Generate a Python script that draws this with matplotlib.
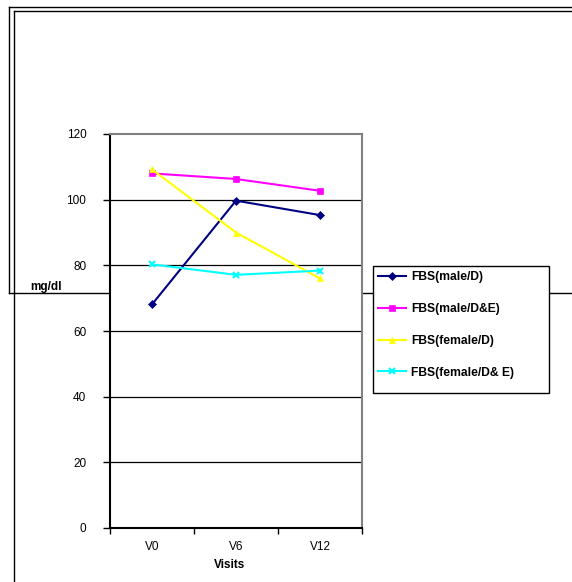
import matplotlib
matplotlib.use("Agg")
import matplotlib.pyplot as plt
from matplotlib.patches import Rectangle

plt.rcParams['font.family'] = ['Liberation Sans', 'DejaVu Sans']

visits = ["V0", "V6", "V12"]
male_d = [68.1, 99.7, 95.3]
male_de = [108.0, 106.3, 102.7]
female_d = [109.2, 90.0, 76.0]
female_de = [80.3, 77.1, 78.4]
labels = ["FBS(male/D)", "FBS(male/D&E)", "FBS(female/D)", "FBS(female/D& E)"]
colors = ["#000080", "#FF00FF", "#FFFF00", "#00FFFF"]
markers = ["D", "s", "^", "x"]

W, H = 572, 582
fig = plt.figure(figsize=(W / 100, H / 100), dpi=100)

# frame lines around the chart (page borders in the source document)
bg = fig.add_axes([0, 0, 1, 1], zorder=0)
bg.set_xlim(0, W)
bg.set_ylim(H, 0)
bg.axis("off")
bg.plot([9, W], [7, 7], color="black", lw=1)
bg.plot([14, W], [11, 11], color="black", lw=1)
bg.plot([9, 9], [7, 293], color="black", lw=1)
bg.plot([14, 14], [11, H], color="black", lw=1)
bg.plot([9, W], [293, 293], color="black", lw=1)
# legend box
bg.add_patch(Rectangle((373, 266), 176, 127, facecolor="white",
                       edgecolor="black", lw=1, zorder=5))

ax = fig.add_axes([110 / W, (H - 528) / H, 252 / W, 394 / H], zorder=1)
ax.set_facecolor("white")

x = range(len(visits))
series = [male_d, male_de, female_d, female_de]
handles = []
for vals, lab, c, m in zip(series, labels, colors, markers):
    ms = 4 if m != "x" else 5
    h, = ax.plot(x, vals, color=c, marker=m, markersize=ms, lw=1.5,
                 markeredgewidth=1.5 if m == "x" else 0.5, label=lab)
    handles.append(h)

ax.set_xlim(-0.5, 2.5)
ax.set_ylim(0, 120)
ax.set_yticks(range(0, 121, 20))
ax.set_xticks([-0.5, 0.5, 1.5, 2.5])
ax.set_xticklabels([])
ax.set_xticks(list(x), minor=True)
ax.set_xticklabels(visits, minor=True)
ax.tick_params(axis="x", which="minor", length=0, pad=9, labelsize=8.5)
ax.tick_params(axis="x", which="major", direction="out", length=4, width=1)
ax.tick_params(axis="y", direction="out", length=5, width=1, labelsize=8.5, pad=12)
for yv in range(20, 101, 20):
    ax.axhline(yv, color="black", lw=0.9, zorder=0.5)

ax.spines["left"].set_color("black")
ax.spines["bottom"].set_color("black")
ax.spines["left"].set_linewidth(1.5)
ax.spines["bottom"].set_linewidth(1.5)
ax.spines["top"].set_color("#808080")
ax.spines["right"].set_color("#808080")
ax.spines["top"].set_linewidth(1.5)
ax.spines["right"].set_linewidth(1.5)

fig.text(230 / W, 1 - 565 / H, "Visits", ha="center", va="center",
         fontsize=8.5, fontweight="bold")
fig.text(30 / W, 1 - 287 / H, "mg/dl", ha="left", va="center",
         fontsize=8.5, fontweight="bold")

leg = fig.legend(handles=handles, loc="upper left",
                 bbox_to_anchor=(373 / W, 1 - 266 / H),
                 borderaxespad=0, frameon=False, handlelength=2.3,
                 handletextpad=0.4, labelspacing=1.63, borderpad=0.45,
                 prop={"weight": "bold", "size": 8.7})
leg.set_zorder(3)

fig.savefig("out.png", dpi=100, facecolor="white")
